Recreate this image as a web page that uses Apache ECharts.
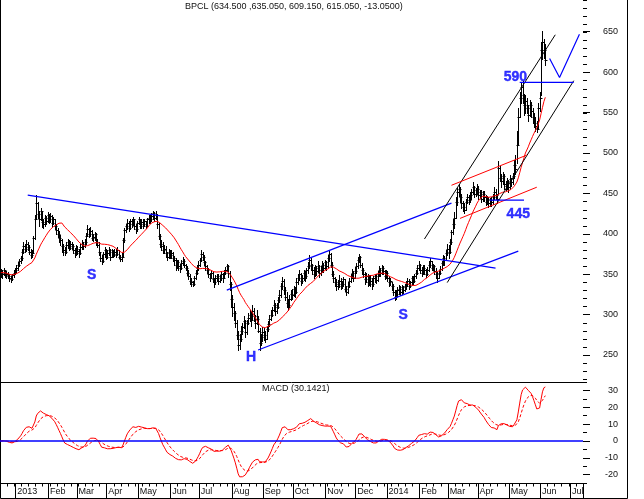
<!DOCTYPE html>
<html>
<head>
<meta charset="utf-8">
<title>BPCL</title>
<script src="https://cdn.jsdelivr.net/npm/echarts@6/dist/echarts.min.js"></script>
<style>
html, body { margin: 0; padding: 0; background: #fff; }
#chart { width: 644px; height: 499px; }
</style>
</head>
<body>
<div id="chart"></div>
<script>
/**
 * BPCL daily bars, 20-day average, MACD panel and hand drawn pattern lines
 */
var firstDay = '2012-12-17';
var lastDay = '2014-07-11';   // axis runs past the last bar
var monthName = ['Jan', 'Feb', 'Mar', 'Apr', 'May', 'Jun', 'Jul', 'Aug', 'Sep', 'Oct', 'Nov', 'Dec'];

// one row per week (Mon..Fri)
var barClose = [
    352, 350, 355, 349, 351, 348, 346, 344, 349, 352, 355, 358, 362, 366, 370,
    378, 385, 381, 388, 384, 378, 374, 376, 395, 418, 438, 425, 418, 428, 415,
    412, 420, 416, 424, 418, 422, 414, 418, 410, 405, 400, 395, 392, 385, 380,
    378, 386, 390, 383, 388, 385, 380, 376, 382, 379, 376, 384, 388, 385, 390,
    398, 406, 400, 404, 395, 396, 400, 390, 386, 378, 370, 366, 375, 380, 372,
    376, 380, 372, 378, 374, 378, 375, 380, 372, 369, 372, 392, 405, 410, 414,
    408, 416, 412, 418, 410, 406, 414, 418, 410, 415, 412, 416, 410, 418, 420,
    418, 422, 426, 420, 424, 412, 398, 388, 385, 380, 382, 376, 372, 378, 374,
    376, 370, 368, 362, 365, 360, 358, 364, 366, 362, 358, 352, 348, 342, 340,
    338, 345, 352, 358, 362, 368, 375, 372, 365, 360, 355, 350, 346, 352, 344,
    340, 345, 348, 342, 346, 350, 345, 352, 356, 360, 352, 338, 320, 310, 302,
    290, 275, 262, 270, 280, 285, 292, 278, 290, 296, 300, 294, 305, 298, 290,
    295, 280, 265, 272, 278, 275, 270, 282, 288, 295, 300, 306, 312, 304, 310,
    318, 325, 335, 342, 330, 322, 315, 312, 320, 326, 325, 332, 328, 340, 345,
    350, 342, 345, 352, 348, 355, 360, 368, 362, 356, 350, 358, 354, 360, 352,
    356, 362, 358, 365, 360, 370, 375, 362, 350, 345, 340, 335, 338, 342, 336,
    338, 344, 332, 328, 336, 342, 348, 352, 346, 354, 360, 368, 372, 362, 356,
    350, 344, 348, 340, 346, 342, 338, 345, 348, 343, 350, 356, 352, 358, 354,
    348, 352, 345, 340, 342, 335, 328, 322, 326, 330, 332, 328, 334, 330, 336,
    338, 342, 336, 340, 345, 342, 348, 352, 358, 362, 356, 352, 358, 355, 350,
    356, 362, 366, 358, 360, 354, 350, 346, 352, 357, 364, 370, 368, 376, 382,
    378, 390, 402, 412, 420, 440, 452, 456, 446, 438, 434, 430, 440, 446, 442,
    448, 452, 458, 450, 454, 456, 448, 452, 444, 450, 446, 440, 444, 438, 442,
    440, 446, 452, 448, 444, 482, 470, 466, 472, 462, 460, 466, 458, 468, 464,
    472, 486, 480, 510, 545, 568, 582, 572, 560, 565, 556, 548, 560, 552, 545,
    538, 534, 530, 556, 568, 628, 638, 628.1, 615.05
];
var barHigh = [
    357, 355, 358, 356, 354, 353, 350, 348, 351, 355, 358, 361, 365, 369, 373,
    382, 390, 387, 392, 390, 386, 381, 380, 398, 423, 448, 440, 428, 432, 429,
    418, 424, 422, 427, 425, 426, 423, 421, 419, 412, 408, 404, 399, 394, 388,
    384, 390, 394, 392, 391, 390, 388, 383, 386, 385, 382, 387, 392, 390, 394,
    401, 411, 408, 409, 405, 400, 403, 401, 394, 390, 378, 374, 378, 384, 381,
    380, 384, 382, 381, 380, 382, 381, 384, 380, 374, 376, 395, 408, 413, 418,
    416, 419, 418, 421, 419, 412, 416, 421, 419, 418, 418, 419, 416, 420, 424,
    423, 426, 428, 427, 428, 425, 414, 400, 392, 390, 386, 385, 378, 381, 380,
    380, 378, 373, 370, 368, 368, 363, 368, 372, 369, 363, 360, 355, 350, 345,
    342, 348, 355, 362, 366, 370, 380, 378, 374, 366, 362, 358, 352, 355, 353,
    346, 349, 351, 350, 349, 354, 352, 356, 359, 363, 362, 354, 340, 324, 314,
    305, 294, 280, 276, 286, 290, 298, 294, 294, 302, 306, 303, 312, 308, 300,
    306, 298, 284, 276, 285, 284, 280, 286, 292, 300, 306, 310, 318, 315, 314,
    322, 330, 339, 347, 344, 334, 328, 320, 324, 330, 332, 336, 334, 345, 350,
    355, 352, 349, 355, 354, 358, 365, 374, 370, 363, 359, 361, 360, 366, 362,
    360, 366, 364, 368, 367, 374, 380, 376, 365, 354, 347, 344, 343, 349, 345,
    342, 347, 344, 336, 340, 345, 351, 357, 354, 359, 364, 371, 375, 373, 364,
    358, 353, 352, 350, 349, 349, 345, 348, 351, 350, 354, 360, 358, 361, 360,
    356, 355, 354, 348, 346, 341, 338, 331, 330, 334, 337, 335, 337, 336, 338,
    342, 345, 344, 342, 348, 348, 351, 355, 362, 366, 363, 359, 361, 362, 357,
    359, 366, 370, 367, 363, 361, 358, 353, 355, 360, 367, 374, 373, 380, 388,
    386, 394, 405, 418, 427, 446, 457, 462, 458, 449, 441, 438, 444, 449, 448,
    452, 456, 465, 460, 457, 462, 459, 455, 454, 453, 453, 448, 447, 446, 445,
    446, 449, 458, 456, 450, 491, 484, 474, 477, 474, 466, 470, 467, 473, 470,
    476, 492, 498, 528, 556, 576, 588, 590, 574, 572, 568, 560, 566, 563, 556,
    550, 545, 540, 562, 576, 638, 651, 642, 635.05
];
var barLow = [
    347, 346, 349, 347, 346, 345, 342, 341, 343, 347, 350, 353, 356, 360, 364,
    368, 376, 378, 379, 380, 375, 370, 371, 376, 394, 418, 420, 410, 417, 409,
    407, 410, 412, 415, 414, 415, 410, 412, 406, 400, 396, 390, 386, 378, 374,
    374, 377, 383, 380, 381, 381, 376, 372, 374, 375, 372, 375, 382, 382, 384,
    388, 397, 396, 398, 392, 391, 393, 386, 384, 374, 366, 363, 365, 372, 369,
    370, 374, 368, 371, 371, 373, 372, 374, 370, 366, 366, 372, 390, 402, 406,
    404, 406, 409, 411, 406, 401, 404, 412, 407, 408, 408, 410, 407, 410, 414,
    414, 416, 419, 416, 418, 408, 394, 384, 380, 376, 376, 372, 368, 370, 370,
    370, 366, 362, 355, 358, 356, 353, 357, 361, 359, 355, 349, 344, 338, 336,
    335, 337, 344, 350, 355, 360, 366, 368, 362, 356, 352, 347, 342, 345, 340,
    334, 338, 342, 338, 340, 343, 340, 345, 350, 354, 347, 330, 310, 298, 294,
    285, 270, 256, 258, 268, 276, 283, 272, 276, 288, 292, 286, 295, 292, 284,
    289, 278, 256, 262, 268, 269, 266, 270, 280, 286, 294, 298, 304, 300, 302,
    308, 316, 322, 332, 326, 318, 310, 306, 310, 318, 320, 323, 322, 327, 338,
    343, 337, 339, 343, 342, 346, 352, 358, 356, 350, 345, 348, 349, 353, 347,
    349, 353, 353, 357, 355, 359, 366, 359, 348, 340, 336, 330, 332, 334, 332,
    333, 336, 329, 324, 327, 334, 340, 345, 342, 345, 352, 358, 365, 359, 351,
    347, 338, 341, 335, 337, 336, 332, 336, 341, 339, 342, 348, 348, 350, 350,
    344, 345, 342, 336, 337, 331, 325, 318, 320, 323, 326, 324, 326, 327, 329,
    332, 335, 332, 334, 337, 338, 340, 345, 350, 356, 352, 348, 350, 350, 347,
    349, 354, 359, 355, 355, 350, 346, 341, 345, 350, 356, 362, 362, 368, 374,
    370, 377, 388, 400, 408, 420, 436, 447, 440, 432, 428, 426, 430, 438, 437,
    440, 444, 450, 446, 447, 450, 444, 445, 440, 441, 441, 436, 437, 434, 435,
    435, 437, 444, 444, 438, 450, 466, 458, 462, 456, 454, 456, 452, 456, 459,
    462, 470, 474, 488, 512, 545, 562, 562, 548, 550, 550, 540, 546, 545, 538,
    532, 528, 526, 530, 552, 572, 617, 618, 609.15
];

// pattern lines drawn on the chart: [date, price]
var downTrend = [['2013-01-11', 448.2], ['2014-04-17', 357.7]];
var channelTop = [['2013-07-26', 330.5], ['2014-03-05', 438.2]];
var channelBase = [['2013-08-27', 256.2], ['2014-05-09', 378.8]];
var rallyTop = [['2014-02-06', 393.8], ['2014-06-16', 646.9]];
var rallyBase = [['2014-02-28', 339.8], ['2014-07-03', 590.0]];
var flagTop = [['2014-03-05', 460.4], ['2014-05-19', 497.8]];
var flagBase = [['2014-03-13', 419.3], ['2014-05-28', 458.0]];
var level590 = [['2014-05-12', 588], ['2014-07-03', 588]];
var level445 = [['2014-04-11', 442], ['2014-05-15', 442]];
var pathAhead = [['2014-06-10', 617.4], ['2014-06-19', 593.9], ['2014-07-09', 647.5]];

var noteText = ['S', 'H', 'S', '590', '445'];
var noteDate = ['2013-03-15', '2013-08-20', '2014-01-16', '2014-05-07', '2014-05-09'];
var noteLevel = [349, 247.9, 299.5, 594.3, 424.6];

var maDays = 20;
var fontName = '"Liberation Sans", Arial, sans-serif';

// trading calendar (weekdays)
var dates = [];
(function () {
    var d = new Date(firstDay + 'T00:00:00Z');
    var end = new Date(lastDay + 'T00:00:00Z').getTime();
    while (d.getTime() <= end) {
        var wd = d.getUTCDay();
        if (wd !== 0 && wd !== 6) dates.push(d.toISOString().slice(0, 10));
        d.setUTCDate(d.getUTCDate() + 1);
    }
})();

function isMonthStart(i) {
    return i > 0 && dates[i].slice(5, 7) !== dates[i - 1].slice(5, 7);
}
function isMonday(i) {
    return new Date(dates[i] + 'T00:00:00Z').getUTCDay() === 1;
}
function toPoints(list) {
    return list.map(function (p) { return [dates.indexOf(p[0]), p[1]]; });
}

function ema(arr, n) {
    var k = 2 / (n + 1), prev = arr[0];
    return arr.map(function (v, i) {
        prev = i === 0 ? v : v * k + prev * (1 - k);
        return prev;
    });
}

var maLine = barClose.map(function (c, i) {
    var from = Math.max(0, i - maDays + 1), s = 0;
    for (var j = from; j <= i; j++) s += barClose[j];
    return +(s / (i - from + 1)).toFixed(2);
});
var ema12 = ema(barClose, 12), ema26 = ema(barClose, 26);
var macdLine = ema12.map(function (v, i) { return +(v - ema26[i]).toFixed(3); });
var signalLine = ema(macdLine, 9).map(function (v) { return +v.toFixed(3); });

function trendSeries(list, color, width) {
    return {
        type: 'line', xAxisIndex: 0, yAxisIndex: 0,
        data: toPoints(list), symbol: 'none', silent: true, z: 3,
        lineStyle: { color: color, width: width || 1 }
    };
}

var myChart = echarts.init(document.getElementById('chart'), null, { renderer: 'canvas' });

var axisText = { fontSize: 9, color: '#111', fontFamily: fontName };
var hidden = { show: false };

var option = {
    animation: false,
    backgroundColor: '#fff',
    textStyle: { fontFamily: fontName },
    title: [{
        text: 'BPCL (634.500 ,635.050, 609.150, 615.050, -13.0500)',
        left: 185, top: 2, padding: 0,
        textStyle: { fontSize: 9, fontWeight: 'normal', color: '#111', fontFamily: fontName }
    }, {
        text: 'MACD (30.1421)',
        left: 262, top: 384, padding: 0,
        textStyle: { fontSize: 9, fontWeight: 'normal', color: '#111', fontFamily: fontName }
    }],
    grid: [
        { left: 0, right: 61, top: -0.63, height: 379.88 },   // price 690..220
        { left: 0, right: 61, top: 31.7, height: 323.3 },     // price labels 650..250
        { left: 0, right: 61, top: 382, height: 101 },        // macd 35..-25
        { left: 0, right: 61, top: 390.4, height: 84.2 }      // macd labels 30..-20
    ],
    xAxis: [{
        type: 'category', gridIndex: 0, data: dates, boundaryGap: true, position: 'bottom', offset: 2.75,
        axisLine: { show: true, onZero: false, lineStyle: { color: '#000', width: 1 } },
        axisTick: hidden, axisLabel: hidden, splitLine: hidden
    }, {
        type: 'category', gridIndex: 1, data: dates, show: false
    }, {
        type: 'category', gridIndex: 2, data: dates, boundaryGap: true, position: 'bottom',
        axisLine: { show: true, onZero: false, lineStyle: { color: '#000', width: 1 } },
        axisTick: {
            show: true, length: 3.5, lineStyle: { color: '#000' },
            interval: function (index) { return isMonday(index); }
        },
        axisLabel: {
            show: true, margin: 4, align: 'left', fontSize: 9, color: '#111', fontFamily: fontName,
            padding: [0, 0, 0, 1],
            interval: function (index) { return isMonthStart(index); },
            formatter: function (value) {
                var m = +value.slice(5, 7);
                return m === 1 ? value.slice(0, 4) : monthName[m - 1];
            }
        },
        splitLine: hidden
    }, {
        type: 'category', gridIndex: 2, data: dates, boundaryGap: true, position: 'bottom',
        axisLine: { show: false, onZero: false },
        axisTick: {
            show: true, length: 15, lineStyle: { color: '#000' },
            interval: function (index) { return isMonthStart(index); }
        },
        axisLabel: hidden, splitLine: hidden
    }, {
        type: 'category', gridIndex: 3, data: dates, show: false
    }],
    yAxis: [{
        type: 'value', gridIndex: 0, position: 'right', min: 220, max: 690, interval: 10,
        axisLine: hidden, axisLabel: hidden, splitLine: hidden,
        axisTick: { show: true, length: 4, lineStyle: { color: '#000' } }
    }, {
        type: 'value', gridIndex: 1, position: 'right', min: 250, max: 650, interval: 50,
        axisLine: hidden, splitLine: hidden,
        axisTick: { show: true, length: 7, lineStyle: { color: '#000' } },
        axisLabel: Object.assign({ show: true, margin: 35, align: 'right' }, axisText)
    }, {
        type: 'value', gridIndex: 2, position: 'right', min: -25, max: 35, interval: 5,
        axisLine: hidden, axisLabel: hidden, splitLine: hidden,
        axisTick: { show: true, length: 4, lineStyle: { color: '#000' } }
    }, {
        type: 'value', gridIndex: 3, position: 'right', min: -20, max: 30, interval: 10,
        axisLine: hidden, splitLine: hidden,
        axisTick: { show: true, length: 7, lineStyle: { color: '#000' } },
        axisLabel: Object.assign({ show: true, margin: 35, align: 'right' }, axisText)
    }],
    series: [{
        name: 'BPCL',
        type: 'custom', xAxisIndex: 0, yAxisIndex: 0,
        data: barClose.map(function (c, i) { return [i, c, barLow[i], barHigh[i]]; }),
        encode: { x: 0, y: [1, 2, 3] },
        clip: false, silent: true, z: 2,
        renderItem: function (params, api) {
            var i = api.value(0);
            var hi = api.coord([i, api.value(3)]);
            var lo = api.coord([i, api.value(2)]);
            var cl = api.coord([i, api.value(1)]);
            var x = Math.round(hi[0]) + 0.5;
            var yc = Math.round(cl[1]) + 0.5;
            return {
                type: 'group',
                children: [{
                    type: 'line',
                    shape: { x1: x, y1: Math.round(hi[1]), x2: x, y2: Math.round(lo[1]) + 1 },
                    style: { stroke: '#000', lineWidth: 1 }
                }, {
                    type: 'line',
                    shape: { x1: x - 1, y1: yc, x2: x + 2, y2: yc },
                    style: { stroke: '#000', lineWidth: 1 }
                }]
            };
        }
    }, {
        name: 'MA20', type: 'line', xAxisIndex: 0, yAxisIndex: 0,
        data: maLine, symbol: 'none', silent: true, z: 3,
        lineStyle: { color: '#ff0000', width: 1 }
    },
        trendSeries(downTrend, '#0000ff', 1.2),
        trendSeries(channelTop, '#0000ff', 1.2),
        trendSeries(channelBase, '#0000ff', 1.2),
        trendSeries(rallyTop, '#000000', 1),
        trendSeries(rallyBase, '#000000', 1),
        trendSeries(flagTop, '#ff0000', 1),
        trendSeries(flagBase, '#ff0000', 1),
        trendSeries(level590, '#0000ff', 1.2),
        trendSeries(level445, '#0000ff', 1.2),
        trendSeries(pathAhead, '#0000ff', 1.2),
    {
        name: 'notes', type: 'scatter', xAxisIndex: 0, yAxisIndex: 0,
        symbolSize: 1, silent: true, z: 4,
        itemStyle: { color: 'rgba(0,0,0,0)' },
        data: noteText.map(function (t, i) { return [dates.indexOf(noteDate[i]), noteLevel[i], t]; }),
        label: {
            show: true, position: 'inside', color: '#0000ff',
            fontSize: 14, fontWeight: 'bold', fontFamily: fontName,
            textBorderColor: '#0000ff', textBorderWidth: 0.4,
            formatter: function (p) { return p.data[2]; }
        }
    }, {
        name: 'MACD', type: 'line', xAxisIndex: 2, yAxisIndex: 2,
        data: macdLine, symbol: 'none', silent: true, clip: false, z: 3,
        lineStyle: { color: '#ff0000', width: 1 },
        markLine: {
            silent: true, symbol: 'none', animation: false,
            label: { show: false },
            lineStyle: { color: '#0000ff', width: 1.5, type: 'solid' },
            data: [{ yAxis: 0 }]
        }
    }, {
        name: 'Signal', type: 'line', xAxisIndex: 2, yAxisIndex: 2,
        data: signalLine, symbol: 'none', silent: true, clip: false, z: 3,
        lineStyle: { color: '#ff0000', width: 1, type: [3, 2] }
    }],
    graphic: [{
        type: 'polyline', silent: true,
        shape: { points: [[0.5, 0], [0.5, 498.5], [627.5, 498.5], [627.5, 0]] },
        style: { stroke: '#000', fill: null, lineWidth: 1 }
    }]
};

myChart.setOption(option);
</script>
</body>
</html>
